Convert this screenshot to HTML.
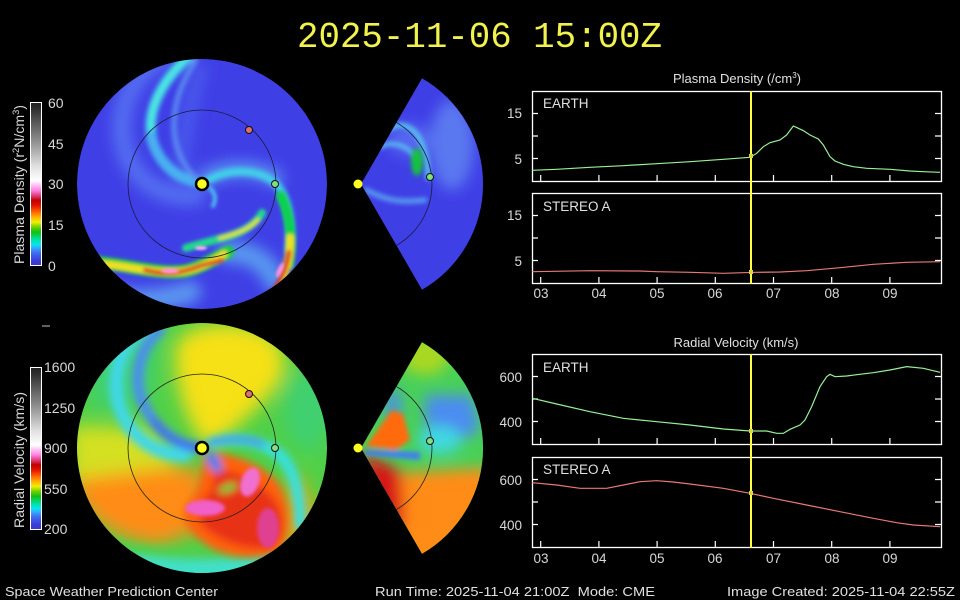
<!DOCTYPE html>
<html><head><meta charset="utf-8">
<style>
html,body{margin:0;padding:0;background:#000;}
svg{display:block;}
text{font-family:"Liberation Sans",sans-serif;}
</style></head>
<body>
<svg width="960" height="600" viewBox="0 0 960 600" xmlns="http://www.w3.org/2000/svg">
<defs>
  <filter id="f1" filterUnits="userSpaceOnUse" x="0" y="0" width="960" height="600"><feGaussianBlur stdDeviation="1.2"/></filter>
  <filter id="f2" filterUnits="userSpaceOnUse" x="0" y="0" width="960" height="600"><feGaussianBlur stdDeviation="1.8"/></filter>
  <filter id="f3" filterUnits="userSpaceOnUse" x="0" y="0" width="960" height="600"><feGaussianBlur stdDeviation="2.5"/></filter>
  <filter id="f5" filterUnits="userSpaceOnUse" x="0" y="0" width="960" height="600"><feGaussianBlur stdDeviation="4"/></filter>
  <filter id="f8" filterUnits="userSpaceOnUse" x="0" y="0" width="960" height="600"><feGaussianBlur stdDeviation="7"/></filter>
  <filter id="f10" filterUnits="userSpaceOnUse" x="0" y="0" width="960" height="600"><feGaussianBlur stdDeviation="9"/></filter>
  <clipPath id="cD"><circle cx="202" cy="184" r="125"/></clipPath>
  <clipPath id="cV"><circle cx="202" cy="448" r="125"/></clipPath>
  <clipPath id="wT"><path d="M 361 184 L 422 78.3 A 122 122 0 0 1 422 289.7 Z"/></clipPath>
  <clipPath id="wB"><path d="M 361 448 L 422 342.3 A 122 122 0 0 1 422 553.7 Z"/></clipPath>
  <linearGradient id="cmap" x1="0" y1="1" x2="0" y2="0">
    <stop offset="0" stop-color="#3a3ad0"/>
    <stop offset="0.03" stop-color="#3c3cd8"/>
    <stop offset="0.08" stop-color="#4070f0"/>
    <stop offset="0.11" stop-color="#30b0ff"/>
    <stop offset="0.13" stop-color="#00e8f0"/>
    <stop offset="0.16" stop-color="#00e0a0"/>
    <stop offset="0.205" stop-color="#10c010"/>
    <stop offset="0.236" stop-color="#70d000"/>
    <stop offset="0.266" stop-color="#f0f000"/>
    <stop offset="0.297" stop-color="#ffb000"/>
    <stop offset="0.33" stop-color="#ff6000"/>
    <stop offset="0.37" stop-color="#e01000"/>
    <stop offset="0.40" stop-color="#c00000"/>
    <stop offset="0.43" stop-color="#e04080"/>
    <stop offset="0.46" stop-color="#ff80e0"/>
    <stop offset="0.50" stop-color="#ffd0f8"/>
    <stop offset="0.52" stop-color="#ffffff"/>
    <stop offset="0.61" stop-color="#e0e0e0"/>
    <stop offset="0.76" stop-color="#909090"/>
    <stop offset="0.96" stop-color="#303030"/>
    <stop offset="1" stop-color="#202020"/>
  </linearGradient>
</defs>

<!-- Title -->
<text x="297" y="47" style="font-family:'Liberation Mono',monospace" font-size="36" fill="#f2f24c" textLength="365" lengthAdjust="spacingAndGlyphs">2025-11-06 15:00Z</text>

<!-- ================= DENSITY DISK ================= -->
<g clip-path="url(#cD)">
  <circle cx="202" cy="184" r="125" fill="#3f3fe6"/>
  <g filter="url(#f8)" fill="none" stroke-linecap="round">
    <path d="M 196 196 C 150 200, 118 165, 122 120 C 125 90, 140 70, 165 56" stroke="#5470f2" stroke-width="18"/>
    <path d="M 92 292 C 125 304, 160 302, 190 292" stroke="#5c98f0" stroke-width="22"/>
    <path d="M 228 252 C 248 252, 265 258, 276 282" stroke="#5898f0" stroke-width="22"/>
    <path d="M 205 178 C 225 168, 250 165, 275 178" stroke="#5a90f2" stroke-width="16"/>
    <path d="M 180 185 C 180 160, 185 120, 200 70" stroke="#4a5aec" stroke-width="14"/>
  </g>
  <g filter="url(#f3)" fill="none" stroke-linecap="round">
    <path d="M 200 182 C 178 180, 160 165, 152 140 C 146 112, 160 82, 190 56" stroke="#48b0f0" stroke-width="11"/>
    <path d="M 151 128 C 150 105, 163 80, 188 56" stroke="#48e8e0" stroke-width="7"/>
    <path d="M 200 180 C 186 172, 174 150, 174 125 C 174 100, 183 80, 196 60" stroke="#5a8cf2" stroke-width="5"/>
    <path d="M 208 180 C 230 168, 262 168, 278 186 C 290 202, 292 228, 289 250" stroke="#40d0e8" stroke-width="8"/>
  </g>
  <g filter="url(#f2)" fill="none" stroke-linecap="round">
    <path d="M 281 196 C 290 215, 293 240, 289 265" stroke="#10d050" stroke-width="10"/>
    <path d="M 290 238 C 290 258, 286 274, 276 292" stroke="#f0e020" stroke-width="8"/>
    <path d="M 289 252 C 287 268, 281 281, 271 294" stroke="#e02020" stroke-width="4.5"/>
    <path d="M 210 188 C 216 194, 216 200, 213 206" stroke="#50c0f0" stroke-width="4"/>
    <path d="M 262 213 C 252 230, 232 236, 215 240 C 203 243, 193 246, 186 248" stroke="#20d890" stroke-width="8"/>
    <path d="M 258 220 C 248 230, 235 234, 220 238" stroke="#e8e020" stroke-width="3.5"/>
    <path d="M 92 262 C 130 265, 160 275, 185 271 C 200 268, 212 260, 228 252" stroke="#18d040" stroke-width="13"/>
    <path d="M 102 264 C 135 267, 160 275, 185 271 C 200 268, 212 262, 224 254" stroke="#f0e020" stroke-width="7"/>
    <path d="M 145 270 C 165 275, 180 274, 200 266 L 222 260" stroke="#e02020" stroke-width="4"/>
  </g>
  <g filter="url(#f1)">
    <ellipse cx="170" cy="271" rx="9" ry="2.5" fill="#ff90e0"/>
    <ellipse cx="201" cy="248" rx="6" ry="2" fill="#ffb0f0"/>
    <ellipse cx="280" cy="270" rx="2.5" ry="8" fill="#ff90e0" transform="rotate(25 280 270)"/>
  </g>
  <circle cx="202" cy="184" r="74" fill="none" stroke="#1a1a40" stroke-width="0.8"/>
</g>

<!-- ================= DENSITY WEDGE ================= -->
<g clip-path="url(#wT)">
  <rect x="355" y="70" width="135" height="230" fill="#3f3fe6"/>
  <g filter="url(#f8)">
    <ellipse cx="452" cy="145" rx="22" ry="45" fill="#5a78f0"/>
    <ellipse cx="410" cy="140" rx="22" ry="16" fill="#5468f0"/>
  </g>
  <g filter="url(#f3)" fill="none" stroke-linecap="round">
    <path d="M 380 147 C 392 140, 408 145, 418 160" stroke="#58c8f0" stroke-width="4"/>
    <path d="M 388 130 C 398 122, 412 124, 420 140 C 426 152, 428 165, 428 178" stroke="#58c8f0" stroke-width="5"/>
    <path d="M 366 190 C 380 197, 395 204, 425 200" stroke="#58a0f0" stroke-width="5"/>
  </g>
  <g filter="url(#f3)"><ellipse cx="417" cy="162" rx="6" ry="14" fill="#18c040"/></g>
  <circle cx="361" cy="184" r="71" fill="none" stroke="#1a1a40" stroke-width="0.8"/>
</g>

<!-- ================= VELOCITY DISK ================= -->
<g clip-path="url(#cV)">
  <circle cx="202" cy="448" r="125" fill="#50d048"/>
  <g filter="url(#f10)">
    <path d="M 70 478 C 80 515, 110 540, 160 545 L 200 530 L 205 470 L 150 466 Z" fill="#ff8c14"/>
    <path d="M 70 425 L 150 428 L 180 466 L 70 480 Z" fill="#d4e020"/>
    <path d="M 205 446 C 185 420, 172 380, 176 345 C 185 325, 225 318, 262 330 C 285 342, 290 362, 278 385 C 262 405, 240 425, 212 446 Z" fill="#f6e018"/>
    <ellipse cx="308" cy="410" rx="24" ry="40" fill="#40d070"/>
    <path d="M 292 470 C 312 490, 322 520, 300 548 L 282 535 Z" fill="#ffa010"/>
    <path d="M 85 360 C 100 340, 130 325, 160 322 L 150 400 L 95 410 Z" fill="#40d070"/>
  </g>
  <g filter="url(#f5)">
    <path d="M 95 548 C 150 560, 220 566, 275 552 L 265 600 L 95 600 Z" fill="#40e0c8"/>
    <path d="M 110 540 C 150 550, 200 552, 240 546 L 240 560 L 110 555 Z" fill="#50d050"/>
  </g>
  <g filter="url(#f5)" fill="none" stroke-linecap="round">
    <path d="M 185 455 C 150 455, 122 430, 117 395 C 113 365, 125 340, 145 325" stroke="#40d8e8" stroke-width="14"/>
    <path d="M 200 448 C 172 444, 150 425, 140 395 C 134 370, 142 345, 160 330" stroke="#4c8cf0" stroke-width="11"/>
    <path d="M 198 448 C 180 446, 165 437, 155 422" stroke="#4070f0" stroke-width="8"/>
    <path d="M 212 443 C 235 436, 260 440, 280 455 C 295 470, 300 495, 300 525" stroke="#38e0e0" stroke-width="12"/>
    <path d="M 210 443 C 230 438, 245 438, 262 444" stroke="#4a8cf0" stroke-width="6"/>
  </g>
  <g filter="url(#f5)">
    <path d="M 204 452 C 230 452, 260 462, 278 482 C 292 505, 292 535, 280 552 C 255 562, 220 558, 200 540 C 185 528, 178 515, 190 500 C 200 488, 203 470, 204 452 Z" fill="#ff6010"/>
    <path d="M 215 470 C 240 470, 265 485, 278 505 C 285 525, 282 540, 268 548 C 245 550, 222 542, 205 528 C 195 518, 200 500, 212 490 Z" fill="#e83018"/>
    <ellipse cx="214" cy="462" rx="6" ry="12" fill="#4080f0" transform="rotate(-30 214 462)"/>
    <ellipse cx="228" cy="488" rx="10" ry="4" fill="#60d040" transform="rotate(-20 228 488)"/>
  </g>
  <g filter="url(#f2)">
    <ellipse cx="205" cy="508" rx="20" ry="8" fill="#f060c8"/>
    <ellipse cx="250" cy="482" rx="9" ry="15" fill="#f070d0" transform="rotate(20 250 482)"/>
    <ellipse cx="268" cy="528" rx="11" ry="20" fill="#e04090"/>
  </g>
  <circle cx="202" cy="448" r="74" fill="none" stroke="#222" stroke-width="0.8"/>
</g>

<!-- ================= VELOCITY WEDGE ================= -->
<g clip-path="url(#wB)">
  <rect x="355" y="335" width="135" height="230" fill="#48d058"/>
  <g filter="url(#f8)">
    <ellipse cx="425" cy="355" rx="25" ry="20" fill="#a8d820"/>
    <path d="M 425 395 L 472 395 L 480 430 L 445 450 L 425 430 Z" fill="#4c8cf0"/>
    <ellipse cx="393" cy="405" rx="8" ry="16" fill="#4c8cf0"/>
    <ellipse cx="440" cy="440" rx="22" ry="14" fill="#40d8e0"/>
    <path d="M 380 474 L 490 468 L 490 565 L 400 565 Z" fill="#ff8c18"/>
    <path d="M 361 452 L 400 470 L 405 525 L 380 535 Z" fill="#d81818"/>
  </g>
  <g filter="url(#f3)">
    <path d="M 366 446 L 392 410 L 403 414 L 410 440 L 396 450 Z" fill="#ff6a10"/>
    <path d="M 365 450 L 420 452 L 420 460 L 365 455 Z" fill="#4080f0"/>
  </g>
  <circle cx="361" cy="448" r="71" fill="none" stroke="#222" stroke-width="0.8"/>
</g>

<!-- Suns & planets -->
<circle cx="202" cy="184" r="6" fill="#ffff20" stroke="#000" stroke-width="2.5"/>
<circle cx="202" cy="448" r="6" fill="#ffff20" stroke="#000" stroke-width="2.5"/>
<circle cx="358" cy="184" r="4.5" fill="#ffff20"/>
<circle cx="358" cy="448" r="4.5" fill="#ffff20"/>
<circle cx="275" cy="184" r="3.5" fill="#80e080" stroke="#101010" stroke-width="1"/>
<circle cx="249" cy="130" r="3.5" fill="#e07070" stroke="#101010" stroke-width="1"/>
<circle cx="275" cy="448" r="3.5" fill="#80e080" stroke="#101010" stroke-width="1"/>
<circle cx="249" cy="394" r="3.5" fill="#e07070" stroke="#101010" stroke-width="1"/>
<circle cx="430" cy="177" r="3.5" fill="#80e080" stroke="#101010" stroke-width="1"/>
<circle cx="430" cy="441" r="3.5" fill="#80e080" stroke="#101010" stroke-width="1"/>

<!-- Colorbars -->
<rect x="30.5" y="102.5" width="11" height="163" fill="url(#cmap)" stroke="#fff" stroke-width="1"/>
<rect x="30.5" y="367.5" width="11" height="162" fill="url(#cmap)" stroke="#fff" stroke-width="1"/>
<g fill="#d8d8d8" font-size="14">
  <text x="48" y="108">60</text>
  <text x="48" y="149">45</text>
  <text x="48" y="189">30</text>
  <text x="48" y="230">15</text>
  <text x="48" y="271">0</text>
  <text x="44" y="372">1600</text>
  <text x="44" y="413">1250</text>
  <text x="44" y="453">900</text>
  <text x="44" y="494">550</text>
  <text x="44" y="534">200</text>
</g>
<text transform="translate(24 264) rotate(-90)" fill="#d8d8d8" font-size="13.5" textLength="159" lengthAdjust="spacingAndGlyphs">Plasma Density (r<tspan font-size="9" dy="-5">2</tspan><tspan dy="5">N/cm</tspan><tspan font-size="9" dy="-5">3</tspan><tspan dy="5">)</tspan></text>
<text transform="translate(24 528) rotate(-90)" fill="#d8d8d8" font-size="13.5" textLength="136" lengthAdjust="spacingAndGlyphs">Radial Velocity (km/s)</text>
<line x1="42" y1="326" x2="50" y2="326" stroke="#c0c0c0" stroke-width="1"/>

<!-- ================= TIME SERIES ================= -->
<g fill="#e0e0e0" font-size="13" text-anchor="middle">
  <text x="737" y="83">Plasma Density (/cm<tspan font-size="8" dy="-5">3</tspan><tspan dy="5">)</tspan></text>
  <text x="736" y="347">Radial Velocity (km/s)</text>
</g>
<g fill="#e0e0e0" font-size="13.5">
  <text x="543" y="108">EARTH</text>
  <text x="543" y="211">STEREO A</text>
  <text x="543" y="372">EARTH</text>
  <text x="543" y="474">STEREO A</text>
</g>
<g fill="#d8d8d8" font-size="13.5" text-anchor="end">
  <text x="522" y="118">15</text>
  <text x="522" y="164">5</text>
  <text x="522" y="220">15</text>
  <text x="522" y="266">5</text>
  <text x="522" y="382">600</text>
  <text x="522" y="427">400</text>
  <text x="522" y="485">600</text>
  <text x="522" y="530">400</text>
</g>
<g fill="#d8d8d8" font-size="13.5" text-anchor="middle">
  <text x="541" y="298">03</text><text x="599" y="298">04</text><text x="657" y="298">05</text><text x="715" y="298">06</text><text x="773.5" y="298">07</text><text x="832" y="298">08</text><text x="890" y="298">09</text>
  <text x="541" y="563">03</text><text x="599" y="563">04</text><text x="657" y="563">05</text><text x="715" y="563">06</text><text x="773.5" y="563">07</text><text x="832" y="563">08</text><text x="890" y="563">09</text>
</g>

<!-- boxes -->
<g fill="none" stroke="#fff" stroke-width="1.3">
  <rect x="532.5" y="91.5" width="409" height="90"/>
  <rect x="532.5" y="193.5" width="409" height="90"/>
  <rect x="532.5" y="354.5" width="409" height="90"/>
  <rect x="532.5" y="457.5" width="409" height="90"/>
</g>
<!-- ticks -->
<g stroke="#fff" stroke-width="1.2">
  <path d="M532 113.5h6M532 136h6M532 158.5h6M941 113.5h-6M941 136h-6M941 158.5h-6"/>
  <path d="M532 215.5h6M532 238h6M532 260.5h6M941 215.5h-6M941 238h-6M941 260.5h-6"/>
  <path d="M532 376.5h6M532 399h6M532 421.5h6M941 376.5h-6M941 399h-6M941 421.5h-6"/>
  <path d="M532 479.5h6M532 502h6M532 524.5h6M941 479.5h-6M941 502h-6M941 524.5h-6"/>
  <path d="M540.7 181v-6M598.9 181v-6M657.1 181v-6M715.3 181v-6M773.5 181v-6M831.7 181v-6M889.9 181v-6"/>
  <path d="M540.7 283v-6M598.9 283v-6M657.1 283v-6M715.3 283v-6M773.5 283v-6M831.7 283v-6M889.9 283v-6"/>
  <path d="M540.7 444v-6M598.9 444v-6M657.1 444v-6M715.3 444v-6M773.5 444v-6M831.7 444v-6M889.9 444v-6"/>
  <path d="M540.7 547v-6M598.9 547v-6M657.1 547v-6M715.3 547v-6M773.5 547v-6M831.7 547v-6M889.9 547v-6"/>
</g>

<!-- curves -->
<g transform="translate(490 65) scale(0.333333)" fill="none">
  <polyline vector-effect="non-scaling-stroke" stroke="#98f098" stroke-width="1.2" points="127,316 200,313 300,307 400,302 500,296 600,290 700,283 780,277 800,265 820,245 840,233 870,225 890,210 910,183 925,190 940,197 960,210 985,222 1000,240 1020,275 1035,288 1060,298 1090,305 1130,310 1200,313 1260,318 1300,320 1350,322"/>
  <polyline vector-effect="non-scaling-stroke" stroke="#e87878" stroke-width="1.2" points="127,620 300,617 450,618 500,620 600,622 700,625 760,623 800,622 870,621 950,617 1050,608 1150,598 1250,592 1350,590"/>
</g>
<g transform="translate(490 330) scale(0.333333)" fill="none">
  <polyline vector-effect="non-scaling-stroke" stroke="#98f098" stroke-width="1.2" points="127,205 200,222 300,245 400,265 500,275 600,285 700,297 780,303 830,303 860,310 880,310 900,298 930,285 945,270 965,230 990,170 1010,140 1020,133 1035,140 1070,138 1100,134 1150,128 1200,120 1250,110 1300,115 1350,127"/>
  <polyline vector-effect="non-scaling-stroke" stroke="#e87878" stroke-width="1.2" points="127,458 200,465 270,475 350,475 400,465 450,455 500,452 550,456 600,462 700,475 780,490 850,505 950,525 1050,545 1150,565 1220,578 1270,585 1350,590"/>
</g>

<!-- current time line -->
<line x1="751" y1="91" x2="751" y2="284" stroke="#ffff40" stroke-width="2"/>
<line x1="751" y1="354" x2="751" y2="548" stroke="#ffff40" stroke-width="2"/>
<g fill="#d8d840">
  <rect x="749" y="154" width="4" height="4"/>
  <rect x="749" y="270" width="4" height="4"/>
  <rect x="749" y="429" width="4" height="4"/>
  <rect x="749" y="491" width="4" height="4"/>
</g>

<!-- footer -->
<g fill="#e0e0e0" font-size="13">
  <text x="5" y="596" textLength="213" lengthAdjust="spacingAndGlyphs">Space Weather Prediction Center</text>
  <text x="375" y="596" textLength="280" lengthAdjust="spacingAndGlyphs" xml:space="preserve">Run Time: 2025-11-04 21:00Z  Mode: CME</text>
  <text x="727" y="596" textLength="228" lengthAdjust="spacingAndGlyphs">Image Created: 2025-11-04 22:55Z</text>
</g>
</svg>
</body></html>
